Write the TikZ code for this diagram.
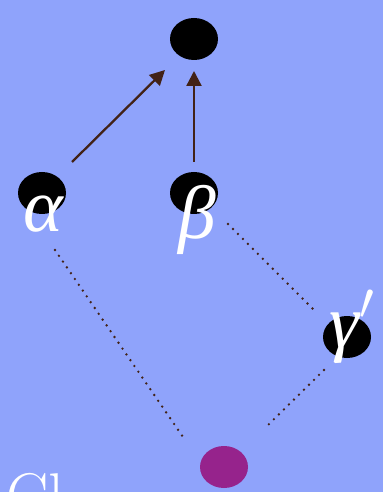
\RequirePackage{fix-cm}
\documentclass[tikz,border=0pt]{standalone}
\usepackage{fontspec}
\newfontfamily\greekfont{Liberation Serif}
\usetikzlibrary{arrows.meta}
\definecolor{bgblue}{RGB}{143,163,251}
\definecolor{linkbrown}{RGB}{66,34,22}
\definecolor{rootpurple}{RGB}{150,35,140}
\tikzset{
  lbl/.style={text=white, inner sep=0pt, font=\greekfont\itshape\fontsize{43}{43}\selectfont},
  link/.style={draw=linkbrown, line width=1.3pt, -{Triangle[length=8.5pt, width=8.5pt]}},
  weak/.style={draw=linkbrown, line width=1.5pt, line cap=round, dash pattern=on 0pt off 4pt}
}
\begin{document}
\begin{tikzpicture}[x=0.02cm, y=-0.02cm]
  \fill[bgblue] (0,0) rectangle (383,492);
  \useasboundingbox (0,0) rectangle (383,492);
  % points
  \fill[black] (194,39) ellipse (24 and 21);
  \fill[black] (42,193) ellipse (24 and 21);
  \fill[black] (194,193) ellipse (24 and 21);
  \fill[black] (347,337) ellipse (24 and 21);
  \fill[rootpurple] (224,467) ellipse (24 and 21);
  \node (alpha) at (43,214) [lbl] {α};
  \node (beta) at (197,220) [lbl] {β};
  \node (gamma) at (352,327) [lbl] {γ$'$};
  % arrows
  \coordinate (a1) at (72,162); \coordinate (a2) at (165,70);
  \coordinate (b1) at (194,162); \coordinate (b2) at (194,71);
  \draw[link] (a1) -- (a2);
  \draw[link] (b1) -- (b2);
  % dotted links
  \coordinate (d1) at (55,250); \coordinate (d2) at (183,437);
  \coordinate (d3) at (228,224); \coordinate (d4) at (316,312);
  \coordinate (d5) at (324,370); \coordinate (d6) at (265,428);
  \draw[weak] (d1) -- (d2);
  \draw[weak] (d3) -- (d4);
  \draw[weak] (d5) -- (d6);
  % caption (cut off by the page)
  \node (cap) at (6,517) [anchor=base west, inner sep=0pt, text=white, font=\fontsize{36}{36}\selectfont] {Cl};
\end{tikzpicture}
\end{document}
